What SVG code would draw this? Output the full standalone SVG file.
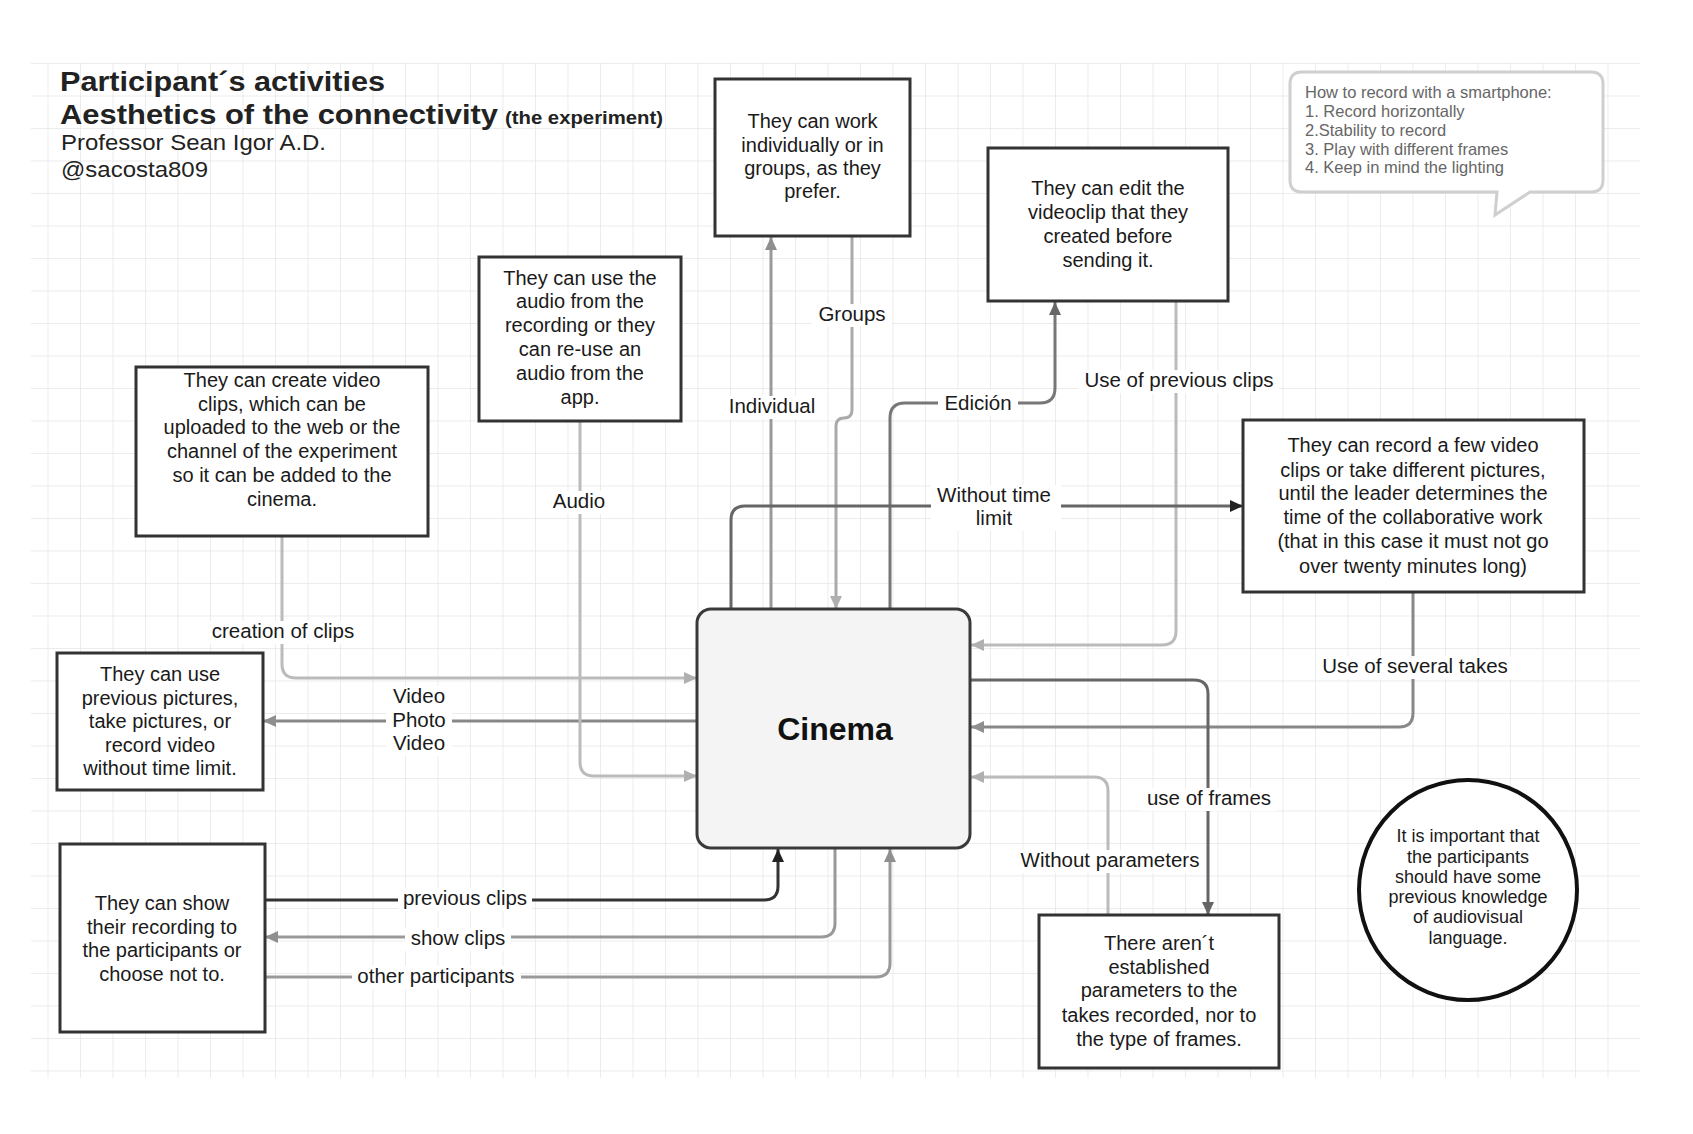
<svg xmlns="http://www.w3.org/2000/svg" width="1693" height="1134" viewBox="0 0 1693 1134">
<style>
text{font-family:"Liberation Sans",Arial,Helvetica,sans-serif}
.bt{font-size:20px;text-anchor:middle;fill:#1a1a1a}
.lb{font-size:20.5px;text-anchor:middle;fill:#1a1a1a}
.lbg{fill:#fff}
.box{fill:#fff;stroke:#333;stroke-width:3}
.c{fill:none;stroke-width:3;stroke-linejoin:round}
.co{font-size:16.5px;fill:#666}
</style>
<defs>
<pattern id="grid" width="32.5" height="32.5" patternUnits="userSpaceOnUse" x="15" y="63">
<path d="M0 0H32.5M0 0V32.5" fill="none" stroke="#e6e6e6" stroke-width="1.5"/>
</pattern>
<marker id="aDark" markerUnits="userSpaceOnUse" markerWidth="14" markerHeight="14" refX="13" refY="7" orient="auto"><path d="M0,1 L13,7 L0,13 Z" fill="#222"/></marker>
<marker id="aMid" markerUnits="userSpaceOnUse" markerWidth="14" markerHeight="14" refX="13" refY="7" orient="auto"><path d="M0,1 L13,7 L0,13 Z" fill="#666"/></marker>
<marker id="aGray" markerUnits="userSpaceOnUse" markerWidth="14" markerHeight="14" refX="13" refY="7" orient="auto"><path d="M0,1 L13,7 L0,13 Z" fill="#8f8f8f"/></marker>
<marker id="aLight" markerUnits="userSpaceOnUse" markerWidth="14" markerHeight="14" refX="13" refY="7" orient="auto"><path d="M0,1 L13,7 L0,13 Z" fill="#b0b0b0"/></marker>
</defs>
<rect width="1693" height="1134" fill="#fff"/>
<rect x="31" y="63" width="1609" height="1015" fill="url(#grid)"/>

<g id="title">
<text x="60" y="91" font-size="27" font-weight="bold" fill="#222" textLength="325" lengthAdjust="spacingAndGlyphs">Participant´s activities</text>
<text x="60" y="124" font-size="28" font-weight="bold" fill="#222" textLength="438" lengthAdjust="spacingAndGlyphs">Aesthetics of the connectivity</text>
<text x="505" y="124" font-size="19" font-weight="bold" fill="#222" textLength="158" lengthAdjust="spacingAndGlyphs">(the experiment)</text>
<text x="61" y="150" font-size="22" fill="#222" textLength="265" lengthAdjust="spacingAndGlyphs">Professor Sean Igor A.D.</text>
<text x="61" y="177" font-size="22" fill="#222" textLength="147" lengthAdjust="spacingAndGlyphs">@sacosta809</text>
</g>

<g id="connectors">
<path class="c" stroke="#999" d="M771,609 V237" marker-end="url(#aGray)"/>
<path class="c" stroke="#aaa" d="M852,236 V410 Q852,418 844,418 Q836,418 836,426 V609" marker-end="url(#aLight)"/>
<path class="c" stroke="#777" d="M890,609 V418 Q890,403 905,403 H1040 Q1055,403 1055,388 V302" marker-end="url(#aMid)"/>
<path class="c" stroke="#bbb" d="M1176,301 V631 Q1176,645 1162,645 H971" marker-end="url(#aLight)"/>
<path class="c" stroke="#666" d="M731,609 V520 Q731,506 745,506 H1243" marker-end="url(#aDark)"/>
<path class="c" stroke="#888" d="M1413,592 V713 Q1413,727 1399,727 H971" marker-end="url(#aGray)"/>
<path class="c" stroke="#666" d="M971,680 H1194 Q1208,680 1208,694 V915" marker-end="url(#aMid)"/>
<path class="c" stroke="#bbb" d="M1108,915 V791 Q1108,777 1094,777 H971" marker-end="url(#aLight)"/>
<path class="c" stroke="#bbb" d="M282,536 V664 Q282,678 296,678 H697" marker-end="url(#aLight)"/>
<path class="c" stroke="#888" d="M697,721 H263" marker-end="url(#aGray)"/>
<path class="c" stroke="#bbb" d="M580,421 V762 Q580,776 594,776 H697" marker-end="url(#aLight)"/>
<path class="c" stroke="#333" stroke-width="3.5" d="M265,900 H764 Q778,900 778,886 V849" marker-end="url(#aDark)"/>
<path class="c" stroke="#999" d="M835,848 V923 Q835,937 821,937 H265" marker-end="url(#aGray)"/>
<path class="c" stroke="#999" d="M265,977 H876 Q890,977 890,963 V849" marker-end="url(#aGray)"/>
</g>

<g id="labels">
<rect class="lbg" x="723" y="396" width="98" height="23"/><text class="lb" x="772" y="413">Individual</text>
<rect class="lbg" x="812" y="304" width="80" height="23"/><text class="lb" x="852" y="321">Groups</text>
<rect class="lbg" x="938" y="390" width="80" height="26"/><text class="lb" x="978" y="410">Edición</text>
<rect class="lbg" x="1078" y="370" width="201" height="23"/><text class="lb" x="1179" y="387">Use of previous clips</text>
<rect class="lbg" x="931" y="485" width="130" height="46"/><text class="lb" x="994" y="502">Without time</text><text class="lb" x="994" y="525">limit</text>
<rect class="lbg" x="1316" y="656" width="197" height="23"/><text class="lb" x="1415" y="673">Use of several takes</text>
<rect class="lbg" x="1141" y="788" width="136" height="23"/><text class="lb" x="1209" y="805">use of frames</text>
<rect class="lbg" x="1014" y="850" width="190" height="23"/><text class="lb" x="1110" y="867">Without parameters</text>
<rect class="lbg" x="205" y="621" width="156" height="23"/><text class="lb" x="283" y="638">creation of clips</text>
<rect class="lbg" x="386" y="686" width="66" height="70"/><text class="lb" x="419" y="703">Video</text><text class="lb" x="419" y="727">Photo</text><text class="lb" x="419" y="750">Video</text>
<rect class="lbg" x="547" y="491" width="64" height="23"/><text class="lb" x="579" y="508">Audio</text>
<rect class="lbg" x="398" y="888" width="134" height="23"/><text class="lb" x="465" y="905">previous clips</text>
<rect class="lbg" x="405" y="928" width="106" height="23"/><text class="lb" x="458" y="945">show clips</text>
<rect class="lbg" x="352" y="966" width="169" height="23"/><text class="lb" x="436" y="983">other participants</text>
</g>

<g id="cinema">
<rect x="697" y="609" width="273" height="239" rx="14" fill="#f4f4f4" stroke="#3a3a3a" stroke-width="3"/>
<text x="835" y="740" font-size="32" font-weight="bold" text-anchor="middle" fill="#111">Cinema</text>
</g>

<g id="work-groups">
<rect class="box" x="715" y="79" width="195" height="157"/>
<text class="bt" x="812.5" y="128">They can work</text>
<text class="bt" x="812.5" y="152">individually or in</text>
<text class="bt" x="812.5" y="175">groups, as they</text>
<text class="bt" x="812.5" y="198">prefer.</text>
</g>

<g id="edit">
<rect class="box" x="988" y="148" width="240" height="153"/>
<text class="bt" x="1108" y="195">They can edit the</text>
<text class="bt" x="1108" y="219">videoclip that they</text>
<text class="bt" x="1108" y="243">created before</text>
<text class="bt" x="1108" y="267">sending it.</text>
</g>

<g id="audio">
<rect class="box" x="479" y="257" width="202" height="164"/>
<text class="bt" x="580" y="285">They can use the</text>
<text class="bt" x="580" y="308">audio from the</text>
<text class="bt" x="580" y="332">recording or they</text>
<text class="bt" x="580" y="356">can re-use an</text>
<text class="bt" x="580" y="380">audio from the</text>
<text class="bt" x="580" y="404">app.</text>
</g>

<g id="create">
<rect class="box" x="136" y="367" width="292" height="169"/>
<text class="bt" x="282" y="387">They can create video</text>
<text class="bt" x="282" y="411">clips, which can be</text>
<text class="bt" x="282" y="434">uploaded to the web or the</text>
<text class="bt" x="282" y="458">channel of the experiment</text>
<text class="bt" x="282" y="482">so it can be added to the</text>
<text class="bt" x="282" y="506">cinema.</text>
</g>

<g id="pictures">
<rect class="box" x="57" y="653" width="206" height="137"/>
<text class="bt" x="160" y="681">They can use</text>
<text class="bt" x="160" y="705">previous pictures,</text>
<text class="bt" x="160" y="728">take pictures, or</text>
<text class="bt" x="160" y="752">record video</text>
<text class="bt" x="160" y="775">without time limit.</text>
</g>

<g id="show">
<rect class="box" x="60" y="844" width="205" height="188"/>
<text class="bt" x="162" y="910">They can show</text>
<text class="bt" x="162" y="934">their recording to</text>
<text class="bt" x="162" y="957">the participants or</text>
<text class="bt" x="162" y="981">choose not to.</text>
</g>

<g id="record">
<rect class="box" x="1243" y="420" width="341" height="172"/>
<text class="bt" x="1413" y="452">They can record a few video</text>
<text class="bt" x="1413" y="477">clips or take different pictures,</text>
<text class="bt" x="1413" y="500">until the leader determines the</text>
<text class="bt" x="1413" y="524">time of the collaborative work</text>
<text class="bt" x="1413" y="548">(that in this case it must not go</text>
<text class="bt" x="1413" y="573">over twenty minutes long)</text>
</g>

<g id="parameters">
<rect class="box" x="1039" y="915" width="240" height="153"/>
<text class="bt" x="1159" y="950">There aren´t</text>
<text class="bt" x="1159" y="974">established</text>
<text class="bt" x="1159" y="997">parameters to the</text>
<text class="bt" x="1159" y="1022">takes recorded, nor to</text>
<text class="bt" x="1159" y="1046">the type of frames.</text>
</g>

<g id="knowledge">
<ellipse cx="1468" cy="890" rx="109" ry="110" fill="#fff" stroke="#111" stroke-width="4"/>
<text class="bt" font-size="18" style="font-size:18px" x="1468" y="842">It is important that</text>
<text class="bt" style="font-size:18px" x="1468" y="863">the participants</text>
<text class="bt" style="font-size:18px" x="1468" y="883">should have some</text>
<text class="bt" style="font-size:18px" x="1468" y="903">previous knowledge</text>
<text class="bt" style="font-size:18px" x="1468" y="923">of audiovisual</text>
<text class="bt" style="font-size:18px" x="1468" y="944">language.</text>
</g>

<g id="smartphone-note">
<path d="M1302,72 H1591 Q1603,72 1603,84 V180 Q1603,192 1591,192 H1530 L1495,215 L1497,192 H1302 Q1290,192 1290,180 V84 Q1290,72 1302,72 Z" fill="#fff" stroke="#cfcfcf" stroke-width="3"/>
<text class="co" x="1305" y="98">How to record with a smartphone:</text>
<text class="co" x="1305" y="117">1. Record horizontally</text>
<text class="co" x="1305" y="136">2.Stability to record</text>
<text class="co" x="1305" y="155">3. Play with different frames</text>
<text class="co" x="1305" y="173">4. Keep in mind the lighting</text>
</g>
</svg>
